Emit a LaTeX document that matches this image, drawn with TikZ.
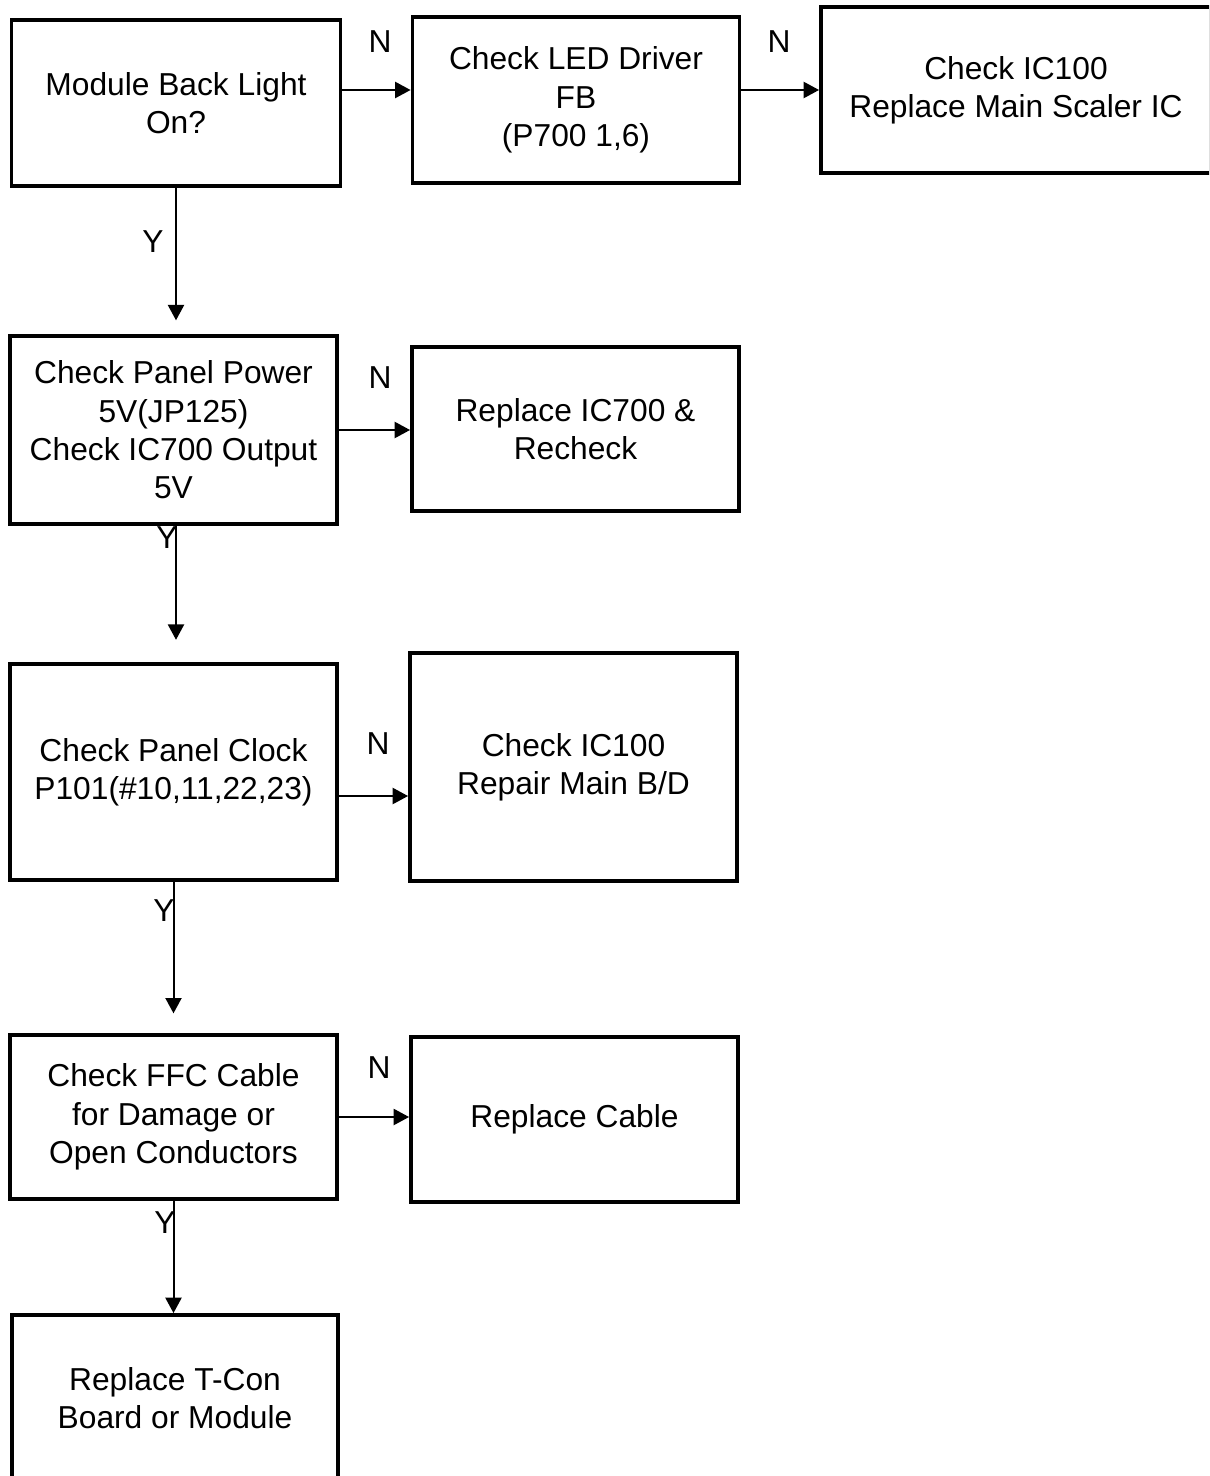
\documentclass[tikz,border=0pt]{standalone}
\usepackage{fontspec}
\setmainfont{Liberation Sans}
\usepackage{tikz}
\usetikzlibrary{positioning,arrows.meta,calc}
\tikzset{
    stepbox/.style={rectangle, draw=black, line width=2.9pt, align=center, inner sep=0pt, font=\fontsize{23.8}{28.8}\selectfont},
    arrow/.style={-{Triangle[length=11.5pt, width=12pt]}, line width=1.5pt, color=black},
    yn/.style={font=\fontsize{23.8}{28.8}\selectfont, inner sep=0pt}
}
\begin{document}
\begin{tikzpicture}[x=0.75pt, y=-0.75pt]
\clip (0,0) rectangle (1209,1476);
\useasboundingbox (0,0) rectangle (1209,1476);

% Steps
\node[stepbox, minimum width=246.75pt, minimum height=125pt] (backlight) at (176,103) {Module Back Light\\On?};
\node[stepbox, minimum width=245.25pt, minimum height=124pt] (leddriver) at (576,100) {Check LED Driver\\FB\\(P700 1,6)};
\node[stepbox, minimum width=292.5pt, minimum height=124pt] (scaler) at (1016,90) {Check IC100\\Replace Main Scaler IC};
\node[stepbox, minimum width=245.25pt, minimum height=140.6pt] (power) at (173.5,430) {Check Panel Power\\5V(JP125)\\Check IC700 Output\\5V};
\node[stepbox, minimum width=245.25pt, minimum height=123.4pt] (ic700) at (575.5,429) {Replace IC700 \&\\Recheck};
\node[stepbox, minimum width=245.25pt, minimum height=162.4pt] (clock) at (173.5,772) {Check Panel Clock\\P101(\#10,11,22,23)};
\node[stepbox, minimum width=245.25pt, minimum height=170.6pt] (mainbd) at (573.5,767) {Check IC100\\Repair Main B/D};
\node[stepbox, minimum width=245.25pt, minimum height=122.6pt] (ffc) at (173.5,1117) {Check FFC Cable\\for Damage or\\Open Conductors};
\node[stepbox, minimum width=245.25pt, minimum height=123.4pt] (cable) at (574.5,1119.5) {Replace Cable};
\node[stepbox, minimum width=244.9pt, minimum height=124.5pt] (tcon) at (175,1398) {Replace T-Con\\Board or Module};

% N branches
\draw[arrow] (backlight.east |- scaler.west) -- (leddriver.west |- scaler.west);
\draw[arrow] (leddriver.east |- scaler.west) -- (scaler.west);
\draw[arrow] (power.east) -- (power.east -| ic700.west);
\draw[arrow] ([yshift=-18pt]clock.east) -- ([yshift=-18pt]clock.east -| mainbd.west);
\draw[arrow] (ffc.east) -- (ffc.east -| cable.west);

% Y branches
\draw[arrow, shorten >=10.5pt] (backlight.south) -- (backlight.south |- power.north);
\draw[arrow, shorten >=16.5pt] (backlight.south |- power.south) -- (backlight.south |- clock.north);
\draw[arrow, shorten >=15pt] (clock.south) -- (clock.south |- ffc.north);
\draw[arrow] (ffc.south) -- (ffc.south |- tcon.north);

% Labels
\node[yn] (n1) at (380,42) {N};
\node[yn] (n2) at (779,42) {N};
\node[yn] (n3) at (380,378) {N};
\node[yn] (n4) at (378,744) {N};
\node[yn] (n5) at (379,1068) {N};
\node[yn] (y1) at (153,242) {Y};
\node[yn] (y2) at (167,538) {Y};
\node[yn] (y3) at (164,911) {Y};
\node[yn] (y4) at (165,1223) {Y};

\end{tikzpicture}
\end{document}
